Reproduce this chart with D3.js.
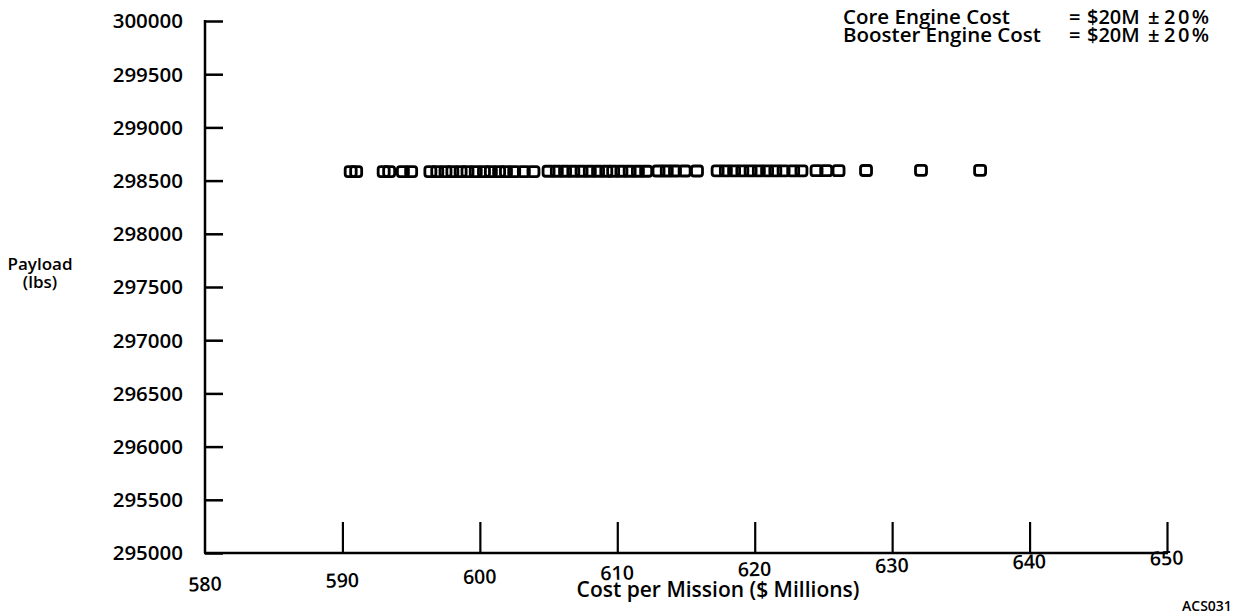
<!DOCTYPE html>
<html><head><meta charset="utf-8">
<script src="https://cdn.jsdelivr.net/npm/d3@7/dist/d3.min.js"></script>
<style>
body{margin:0;background:#fff;}
text{font-family:"Open Sans",sans-serif;font-weight:600;fill:#000;}
</style></head>
<body><svg id="chart" width="1242" height="615"></svg>
<script>
const costs = [590.6,591.0,593.0,593.4,594.4,595.0,
596.4,596.9,597.5,598.0,598.6,599.1,599.7,600.3,600.8,601.4,601.9,602.5,603.2,603.9,
605.0,605.6,606.2,606.8,607.4,608.0,608.6,609.2,609.7,610.3,610.9,611.5,612.1,
613.0,613.6,614.2,614.9,615.8,
617.3,617.9,618.5,619.1,619.7,620.3,620.9,621.5,622.1,622.8,623.4,
624.5,625.2,626.1,628.1,632.1,636.4];
const payloads = [298585,298585,298585,298585,298585,298585,
298585,298585,298585,298585,298585,298585,298585,298585,298585,298585,298585,298585,298585,298585,
298588,298588,298588,298588,298588,298588,298588,298588,298588,298588,298588,298588,298588,
298590,298590,298590,298590,298590,
298592,298592,298592,298592,298592,298592,298592,298592,298592,298592,298592,
298593,298593,298593,298595,298597,298597];
const xTicks = [580,590,600,610,620,630,640,650];
const yTicks = [295000,295500,296000,296500,297000,297500,298000,298500,299000,299500,300000];
const legendNames = ["Core Engine Cost","Booster Engine Cost"];
const legendEq = ["=","="];
const legendAmt = ["$20M","$20M"];
const legendPm = ["\u00b1","\u00b1"];
const legendPct = ["20%","20%"];
const xTitle = "Cost per Mission ($ Millions)";
const yTitle = ["Payload","(lbs)"];

const svg = d3.select("#chart");
const x = d3.scaleLinear().domain([580,650]).range([205,1167]);
const y = d3.scaleLinear().domain([295000,300000]).range([553,21]);

// y axis
const ya = svg.append("g").attr("transform","translate(205,0)")
  .call(d3.axisRight(y).tickValues(yTicks).tickSize(18).tickFormat(""));
ya.select(".domain").remove();
ya.selectAll(".tick line").attr("stroke","#000").attr("stroke-width",2.5);
svg.append("line").attr("x1",205).attr("x2",205).attr("y1",y(300000)-1).attr("y2",y(295000))
  .attr("stroke","#000").attr("stroke-width",2.5);
svg.append("g").selectAll("text").data(yTicks).join("text")
  .attr("x",183).attr("y",d=>y(d)).attr("dy","0.36em").attr("text-anchor","end")
  .attr("font-size",20.5).text(d=>d);

// x axis
const xa = svg.append("g").attr("transform","translate(0,553)")
  .call(d3.axisTop(x).tickValues(xTicks.slice(1)).tickSize(31).tickFormat(""));
xa.select(".domain").remove();
xa.selectAll(".tick line").attr("stroke","#000").attr("stroke-width",2.2);
svg.append("line").attr("x1",x(580)-1).attr("x2",x(650)+1).attr("y1",553).attr("y2",553)
  .attr("stroke","#000").attr("stroke-width",2.5);
const xl = svg.append("g").attr("transform","rotate(-1.55,205,584)");
xl.selectAll("text").data(xTicks).join("text")
  .attr("x",d=>x(d)).attr("y",584).attr("dy","0.36em").attr("text-anchor","middle")
  .attr("font-size",19.5).text(d=>d);

svg.append("text").attr("x",718).attr("y",597).attr("text-anchor","middle")
  .attr("font-size",21).text(xTitle);
const yt = svg.append("text").attr("text-anchor","middle").attr("font-size",17);
yTitle.forEach((t,i)=>yt.append("tspan").attr("x",40).attr("y",270+i*18).text(t));
svg.append("text").attr("x",1182).attr("y",611).attr("font-size",14).text("ACS031");

// legend text
const lg = svg.append("text").attr("font-size",20);
legendNames.forEach((n,i)=>{
  const yy = 24 + i*18;
  lg.append("tspan").attr("x",843).attr("y",yy).attr("font-size",20.5).text(n);
  lg.append("tspan").attr("x",1069).attr("y",yy).text(legendEq[i]);
  lg.append("tspan").attr("x",1087).attr("y",yy).text(legendAmt[i]);
  lg.append("tspan").attr("x",1148).attr("y",yy).text(legendPm[i]);
  lg.append("tspan").attr("x",1164).attr("y",yy).attr("letter-spacing",2.5).text(legendPct[i]);
});

// points
svg.append("g").selectAll("rect").data(costs.map((c,i)=>[c,payloads[i]])).join("rect")
  .attr("x",d=>x(d[0])-5.5).attr("y",d=>y(d[1])-5).attr("width",11).attr("height",10)
  .attr("rx",2.5).attr("fill","none").attr("stroke","#000").attr("stroke-width",2.8);
</script></body></html>
